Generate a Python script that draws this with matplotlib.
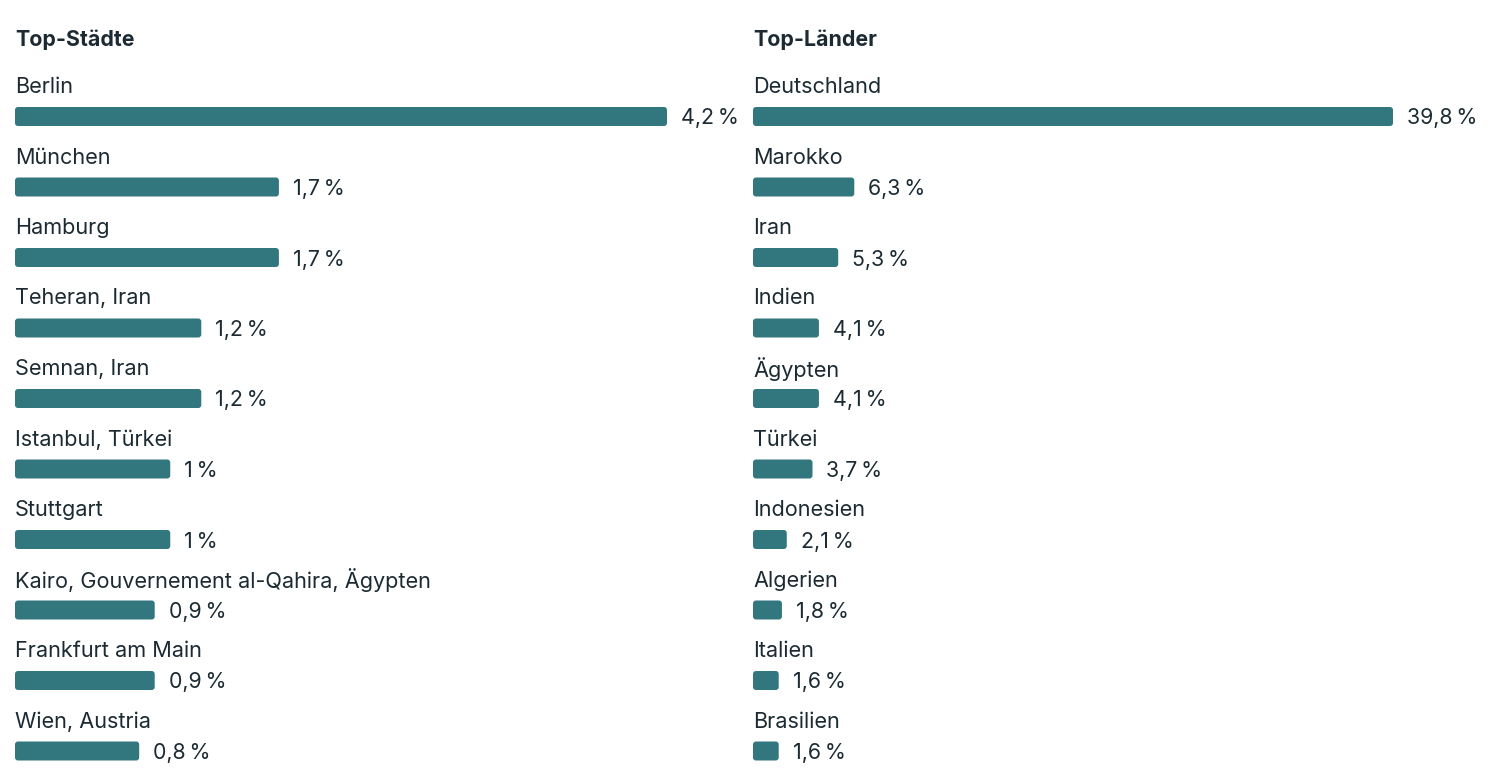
import matplotlib
matplotlib.use("Agg")
import matplotlib.pyplot as plt
from matplotlib.patches import FancyBboxPatch

plt.rcParams['font.family'] = ['Inter', 'DejaVu Sans']

city_title = "Top-Städte"
cities = ["Berlin", "München", "Hamburg", "Teheran, Iran", "Semnan, Iran",
          "Istanbul, Türkei", "Stuttgart", "Kairo, Gouvernement al-Qahira, Ägypten",
          "Frankfurt am Main", "Wien, Austria"]
city_values = [4.2, 1.7, 1.7, 1.2, 1.2, 1.0, 1.0, 0.9, 0.9, 0.8]
city_labels = ["4,2 %", "1,7 %", "1,7 %", "1,2 %", "1,2 %", "1 %", "1 %", "0,9 %", "0,9 %", "0,8 %"]

country_title = "Top-Länder"
countries = ["Deutschland", "Marokko", "Iran", "Indien", "Ägypten", "Türkei",
             "Indonesien", "Algerien", "Italien", "Brasilien"]
country_values = [39.8, 6.3, 5.3, 4.1, 4.1, 3.7, 2.1, 1.8, 1.6, 1.6]
country_labels = ["39,8 %", "6,3 %", "5,3 %", "4,1 %", "4,1 %", "3,7 %", "2,1 %", "1,8 %", "1,6 %", "1,6 %"]

W, H = 1498, 784
BAR_COLOR = "#33777e"
TEXT_COLOR = "#1c2b33"

fig = plt.figure(figsize=(W / 100, H / 100), dpi=100)

ROW = 70.5          # px per row
FIRST = 116.5       # px from top of first bar center
BAR_H = 19 / ROW    # bar height in row units
PT = 0.72           # points per pixel at dpi 100


def panel(left_px, width_px, px_per_unit, title, names, values, labels):
    ax = fig.add_axes([left_px / W, 0, width_px / W, 1])
    ax.set_xlim(0, width_px / px_per_unit)
    ax.set_ylim((H - FIRST) / ROW, -FIRST / ROW)
    ax.axis("off")
    aspect = px_per_unit / ROW
    r = 3.0 / px_per_unit
    for i, (n, v, lab) in enumerate(zip(names, values, labels)):
        patch = FancyBboxPatch((0, i - BAR_H / 2), v, BAR_H,
                               boxstyle=f"round,pad=0,rounding_size={r}",
                               mutation_aspect=aspect,
                               facecolor=BAR_COLOR, edgecolor="none")
        ax.add_patch(patch)
        ax.annotate(lab.replace(" ", "\u2009"), (v, i), xytext=(14 * PT, -2 * PT),
                    textcoords="offset points",
                    ha="left", va="center", fontsize=15.4, color=TEXT_COLOR)
        ax.annotate(n, (0, i), xytext=(0, 29.5 * PT), textcoords="offset points",
                    ha="left", va="center", fontsize=15.6, color=TEXT_COLOR)
    ax.annotate(title, (0, -FIRST / ROW), xytext=(0, -39.5 * PT),
                textcoords="offset points", ha="left", va="center",
                fontsize=15.4, fontweight="bold", color=TEXT_COLOR)
    return ax


panel(15, 720, 652 / 4.2, city_title, cities, city_values, city_labels)
panel(753, 740, 640 / 39.8, country_title, countries, country_values, country_labels)

fig.savefig("out.png", dpi=100, facecolor="white")
